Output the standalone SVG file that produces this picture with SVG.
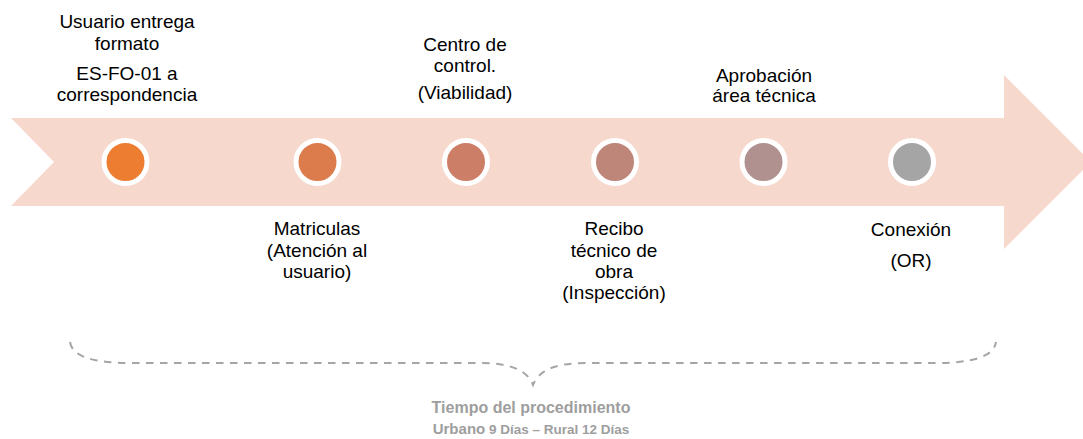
<svg xmlns="http://www.w3.org/2000/svg" width="1083" height="439" viewBox="0 0 1083 439">
<style>
.lbl{font-family:"Liberation Sans",Arial,sans-serif;font-size:19px;fill:#000;text-anchor:middle}
.dot{stroke:#fff;stroke-width:5}
.foot{font-family:"Liberation Sans",Arial,sans-serif;font-weight:bold;fill:#9E9E9E;text-anchor:middle}
</style>
<rect width="1083" height="439" fill="#fff"/>
<g id="arrow">
<polygon points="11,118 1004,118 1004,75 1091,162 1004,249 1004,206 11,206 54,162" fill="#F7D8CD"/>
</g>
<g id="node1">
<circle class="dot" cx="125.5" cy="162" r="21.5" fill="#ED7D31"/>
<text class="lbl" x="127" y="28">Usuario entrega</text>
<text class="lbl" x="127" y="50">formato</text>
<text class="lbl" x="127" y="80">ES-FO-01 a</text>
<text class="lbl" x="127" y="101">correspondencia</text>
</g>
<g id="node2">
<circle class="dot" cx="317.5" cy="162" r="21.5" fill="#DC7C4D"/>
<text class="lbl" x="317" y="235">Matriculas</text>
<text class="lbl" x="317" y="257">(Atención al</text>
<text class="lbl" x="317" y="278">usuario)</text>
</g>
<g id="node3">
<circle class="dot" cx="466" cy="162" r="21.5" fill="#CD7E67"/>
<text class="lbl" x="465" y="51">Centro de</text>
<text class="lbl" x="465" y="72">control.</text>
<text class="lbl" x="465" y="99">(Viabilidad)</text>
</g>
<g id="node4">
<circle class="dot" cx="615" cy="162" r="21.5" fill="#BE8579"/>
<text class="lbl" x="614" y="235">Recibo</text>
<text class="lbl" x="614" y="257">técnico de</text>
<text class="lbl" x="614" y="278">obra</text>
<text class="lbl" x="614" y="299">(Inspección)</text>
</g>
<g id="node5">
<circle class="dot" cx="763.5" cy="162" r="21.5" fill="#B0918F"/>
<text class="lbl" x="764" y="82">Aprobación</text>
<text class="lbl" x="764" y="102">área técnica</text>
</g>
<g id="node6">
<circle class="dot" cx="912" cy="162" r="21.5" fill="#A5A5A5"/>
<text class="lbl" x="911" y="236">Conexión</text>
<text class="lbl" x="911" y="267">(OR)</text>
</g>
<g id="connectors">
<path d="M70,342 C72,357 95,363 130,363 L480,363 C514,363 528,372 533,385 C538,372 552,363 586,363 L936,363 C971,363 994,357 996,342" fill="none" stroke="#A5A5A5" stroke-width="2" stroke-dasharray="7.5,6.5"/>
</g>
<g id="footer">
<text class="foot" x="531" y="413" font-size="16">Tiempo del procedimiento</text>
<text class="foot" x="531" y="434"><tspan font-size="15">Urbano</tspan><tspan font-size="13.5"> 9 Días – Rural 12 Días</tspan></text>
</g>
</svg>
